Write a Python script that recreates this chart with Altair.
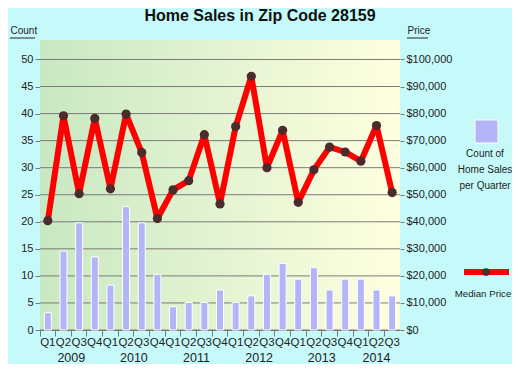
import altair as alt
import pandas as pd

years = ["2009", "2010", "2011", "2012", "2013", "2014"]
quarter_names = ["Q1", "Q2", "Q3", "Q4"]
quarters = [f"{y} {q}" for y in years for q in quarter_names][:23]

sales = [3.2, 14.6, 19.8, 13.5, 8.3, 22.8, 19.8, 10.3, 4.3, 5.1, 5.1, 7.4,
         5.1, 6.3, 10.3, 12.3, 9.4, 11.5, 7.4, 9.4, 9.4, 7.4, 6.3]
prices = [40400, 79200, 50400, 78200, 52200, 79800, 65600, 41200, 51800, 55200,
          72200, 46600, 75200, 93800, 60000, 73800, 47200, 59200, 67600, 65800,
          62400, 75600, 50800]

count_ticks = [0, 5, 10, 15, 20, 25, 30, 35, 40, 45, 50]
price_ticks = [0, 10000, 20000, 30000, 40000, 50000, 60000, 70000, 80000, 90000, 100000]

year_anchor = ["2009 Q3", "2010 Q3", "2011 Q3", "2012 Q3", "2013 Q3"]
year_labels = ["2009", "2010", "2011", "2012", "2013"]
last_anchor = ["2014 Q2"]
last_label = ["2014"]

df = pd.DataFrame({"q": quarters, "sales": sales, "price": prices})
grid_df = pd.DataFrame({"v": count_ticks})
one = pd.DataFrame({"a": [0]})

W, H = 360, 290
TXT = "#222222"
FONT = "Liberation Sans"
COUNT_MAX = 53.6
PRICE_MAX = COUNT_MAX * 2000

xscale = alt.Scale(domain=quarters, paddingInner=0, paddingOuter=0)
cscale = alt.Scale(domain=[0, COUNT_MAX], nice=False, zero=True)
pscale = alt.Scale(domain=[0, PRICE_MAX], nice=False, zero=True)

gradient = alt.LinearGradient(
    gradient="linear",
    stops=[alt.GradientStop(color="#C8E8C2", offset=0),
           alt.GradientStop(color="#FFFFE0", offset=1)],
    x1=0, x2=1, y1=0, y2=0,
)

bg = alt.Chart(one).mark_rect(color=gradient).encode(
    x=alt.value(0), x2=alt.value(W), y=alt.value(0), y2=alt.value(H)
)

grid = alt.Chart(grid_df).mark_rule(color="#7A7A7A", strokeWidth=1).encode(
    y=alt.Y("v:Q", scale=cscale, axis=None)
)

bars = alt.Chart(df).mark_bar(size=7, color="#B4B4F8", stroke="white", strokeWidth=1).encode(
    x=alt.X("q:N", scale=xscale, sort=quarters,
            axis=alt.Axis(orient="bottom", title=None, labelExpr="substring(datum.value, 5)",
                          labelAngle=0, ticks=False, domain=False, grid=False,
                          labelPadding=6, labelFontSize=11.5, labelColor=TXT, labelFont=FONT)),
    y=alt.Y("sales:Q", scale=cscale,
            axis=alt.Axis(values=count_ticks, title="Count", titleAngle=0, titleX=-30, titleY=-5,
                          titleAlign="left", titleBaseline="bottom", titleFontSize=10,
                          titleFontWeight="normal", titleColor=TXT, titleFont=FONT,
                          grid=False, domain=False, tickSize=5, tickColor="#7A7A7A",
                          labelFontSize=11, labelColor=TXT, labelFont=FONT, labelPadding=2)),
)

line = alt.Chart(df).mark_line(color="#FF0000", strokeWidth=6, strokeJoin="round").encode(
    x=alt.X("q:N", scale=xscale, sort=quarters,
            axis=alt.Axis(orient="bottom", title=None, bandPosition=0, labels=False,
                          ticks=True, tickSize=6, tickColor="#7A7A7A", domain=True,
                          domainColor="#7A7A7A", grid=False)),
    y=alt.Y("price:Q", scale=pscale,
            axis=alt.Axis(orient="right", values=price_ticks, format="$,d", title="Price",
                          titleAngle=0, titleX=7, titleY=-5, titleAlign="left",
                          titleBaseline="bottom", titleFontSize=10, titleFontWeight="normal",
                          titleColor=TXT, titleFont=FONT, grid=False, domain=False,
                          tickSize=4, tickColor="#7A7A7A", labelFontSize=11,
                          labelColor=TXT, labelFont=FONT, labelPadding=2)),
)

points = alt.Chart(df).mark_circle(size=85, color="#4B2B2B", opacity=1).encode(
    x=alt.X("q:N", scale=xscale, sort=quarters, axis=None),
    y=alt.Y("price:Q", scale=pscale, axis=None),
)

yr = alt.Chart(pd.DataFrame({"q": year_anchor, "label": year_labels})).mark_text(
    fontSize=12.5, color=TXT, font=FONT, baseline="middle", align="center"
).encode(
    x=alt.X("q:N", scale=xscale, sort=quarters, bandPosition=0, axis=None),
    y=alt.value(H + 28),
    text="label:N",
)

yr_last = alt.Chart(pd.DataFrame({"q": last_anchor, "label": last_label})).mark_text(
    fontSize=12.5, color=TXT, font=FONT, baseline="middle", align="center"
).encode(
    x=alt.X("q:N", scale=xscale, sort=quarters, bandPosition=0.5, axis=None),
    y=alt.value(H + 28),
    text="label:N",
)

# underlines of the axis titles
ul = alt.Chart(one).mark_rule(color=TXT, strokeWidth=1).encode(
    x=alt.value(-30), x2=alt.value(-5), y=alt.value(-2)
)
ul2 = alt.Chart(one).mark_rule(color=TXT, strokeWidth=1).encode(
    x=alt.value(W + 7), x2=alt.value(W + 28), y=alt.value(-2)
)

# custom legend
leg_box = alt.Chart(one).mark_rect(color="#B4B4F8", stroke="white", strokeWidth=1).encode(
    x=alt.value(435), x2=alt.value(458), y=alt.value(80), y2=alt.value(103)
)
leg_txt = alt.Chart(one).mark_text(
    fontSize=10, color=TXT, font=FONT, align="center", baseline="middle", lineHeight=16
).encode(
    x=alt.value(445), y=alt.value(114),
    text=alt.value(["Count of", "Home Sales", "per Quarter"]),
)
leg_line = alt.Chart(one).mark_rule(color="#FF0000", strokeWidth=6).encode(
    x=alt.value(424), x2=alt.value(469), y=alt.value(232)
)
leg_dot = alt.Chart(one).mark_circle(size=60, color="#4B2B2B", opacity=1).encode(
    x=alt.value(446), y=alt.value(232)
)
leg_txt2 = alt.Chart(one).mark_text(
    fontSize=9.7, color=TXT, font=FONT, align="center", baseline="middle"
).encode(
    x=alt.value(443), y=alt.value(254), text=alt.value("Median Price")
)

chart = alt.layer(
    bg, grid, bars, line, points, yr, yr_last, ul, ul2,
    leg_box, leg_txt, leg_line, leg_dot, leg_txt2,
).resolve_scale(y="independent").resolve_axis(x="independent").properties(
    width=W, height=H,
    autosize=alt.AutoSizeParams(type="none"),
    padding={"left": 32, "top": 32, "right": 112, "bottom": 34},
    title=alt.TitleParams("Home Sales in Zip Code 28159", fontSize=16, fontWeight="bold",
                          font=FONT, color="#111111", anchor="middle", dx=40, offset=1),
).configure(background="#C6FAFA").configure_view(stroke=None)

chart.save("out.html", embed_options={"renderer": "svg", "actions": False})
